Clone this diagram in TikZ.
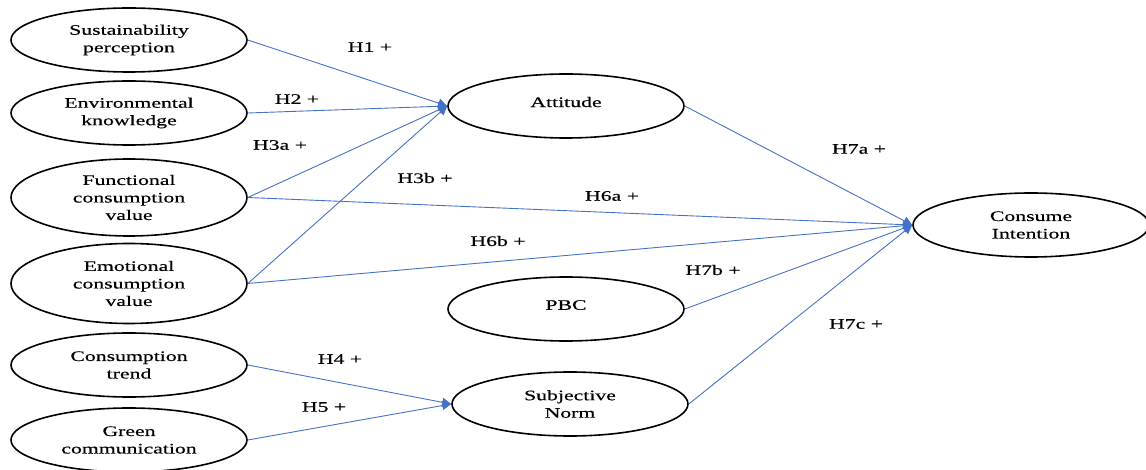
\documentclass[tikz,border=0pt]{standalone}
\usepackage{fontspec}
\setmainfont{Liberation Serif}[FakeStretch=1.5,FakeBold=0.4]
\usetikzlibrary{shapes.geometric,arrows.meta}
\definecolor{arrowblue}{RGB}{68,114,196}
\begin{document}
\begin{tikzpicture}[x=1pt,y=-1pt,
  construct/.style={draw=black,line width=1.6pt,ellipse,minimum width=236pt,minimum height=64pt,inner sep=0pt,align=center,font=\fontsize{14.5}{17.5}\selectfont},
  link/.style={draw=arrowblue,line width=0.9pt,-{Triangle[length=9pt,width=9pt]}},
  hyp/.style={font=\fontsize{14.5}{17.5}\selectfont,inner sep=0pt}]
\useasboundingbox (0,0) rectangle (1146,470);
\node[construct] (sus) at (129,40) {Sustainability\\perception};
\node[construct] (env) at (129,113) {Environmental\\knowledge};
\node[construct,minimum height=77pt] (fun) at (129,197.5) {Functional\\consumption\\value};
\node[construct,minimum height=80pt] (emo) at (129,283.5) {Emotional\\consumption\\value};
\node[construct] (trend) at (129,365) {Consumption\\trend};
\node[construct] (green) at (129,440) {Green\\communication};
\node[construct,text depth=8pt] (att) at (566,106) {Attitude};
\node[construct,text depth=8pt] (pbc) at (566,309) {PBC};
\node[construct] (sn) at (570,404) {Subjective\\Norm};
\node[construct] (ci) at (1031,225) {Consume\\Intention};

\draw[link] (sus.east) -- (att.west);
\draw[link] (env.east) -- (att.west);
\draw[link] (fun.east) -- (att.west);
\draw[link] (emo.east) -- (att.west);
\draw[link] (fun.east) -- (ci.west);
\draw[link] (emo.east) -- (ci.west);
\draw[link] (att.east) -- (ci.west);
\draw[link] (pbc.east) -- (ci.west);
\draw[link] (sn.east) -- (ci.west);
\draw[link] (trend.east) -- (sn.west);
\draw[link] (green.east) -- (sn.west);

\node[hyp] (h1) at (370,47) {H1 +};
\node[hyp] (h2) at (297,99) {H2 +};
\node[hyp] (h3a) at (280,145) {H3a +};
\node[hyp] (h3b) at (425,178) {H3b +};
\node[hyp] (h6a) at (612,196) {H6a +};
\node[hyp] (h6b) at (498,241) {H6b +};
\node[hyp] (h7a) at (859,149) {H7a +};
\node[hyp] (h7b) at (713,270) {H7b +};
\node[hyp] (h7c) at (856,324) {H7c +};
\node[hyp] (h4) at (340,359) {H4 +};
\node[hyp] (h5) at (324,407) {H5 +};
\end{tikzpicture}
\end{document}
